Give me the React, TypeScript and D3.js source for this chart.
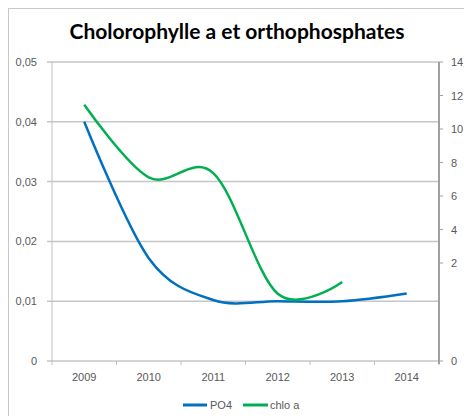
import React from "react";
import * as d3 from "d3";

const years = ["2009", "2010", "2011", "2012", "2013", "2014"];
const po4 = [0.04, 0.0172, 0.0102, 0.01, 0.01, 0.0113];
const chloa = [12.0, 8.6, 8.8, 3.15, 3.7];
const leftTicks = [0, 0.01, 0.02, 0.03, 0.04, 0.05];
const leftTickLabels = ["0", "0,01", "0,02", "0,03", "0,04", "0,05"];
const rightTicks = [0, 2, 4, 6, 8, 10, 12, 14];
const title = "Cholorophylle a et orthophosphates";
const seriesNames = ["PO4", "chlo a"];

const W = 464;
const H = 416;
const left = 52;
const right = 439;
const top = 62;
const bottom = 361;
const blue = "#0070C0";
const green = "#00B050";
const txt = "#595959";
const font = "'Liberation Sans', Arial, sans-serif";

export default function App() {
  const x = d3.scaleBand<string>().domain(years).range([left, right]);
  const cx = (yr: string) => (x(yr) as number) + x.bandwidth() / 2;
  const yL = d3.scaleLinear().domain([0, 0.05]).range([bottom, top]);
  const yR = d3.scaleLinear().domain([0, 14]).range([bottom, top]);
  // label placement on the right axis as rendered in the reference
  const yRLabel = d3.scaleLinear().domain([0, 2, 14]).range([bottom, 263, top]);

  const curve = d3.curveCardinal.tension(0);
  const lineL = d3
    .line<number>()
    .x((_, i) => cx(years[i]))
    .y((d) => yL(d))
    .curve(curve);
  const lineR = d3
    .line<number>()
    .x((_, i) => cx(years[i]))
    .y((d) => yR(d))
    .curve(curve);

  const boundaries = [...years.map((y) => x(y) as number), right];

  return (
    <svg
      width={W}
      height={H}
      style={{ position: "absolute", left: 0, top: 0, background: "#fff" }}
    >
      <rect x={0} y={0} width={W} height={H} fill="#fff" />
      {/* chart border */}
      <line x1={8} y1={8.5} x2={W} y2={8.5} stroke="#c8c8c8" strokeWidth={1} />
      <line x1={8.5} y1={8} x2={8.5} y2={H} stroke="#c8c8c8" strokeWidth={1} />

      <text
        x={237}
        y={39}
        textAnchor="middle"
        fontFamily="Lato, 'Open Sans', sans-serif"
        fontWeight="bold"
        fontSize={21}
        fill="#000"
      >
        {title}
      </text>

      {/* gridlines */}
      {leftTicks.map((t, i) => (
        <g key={"g" + i}>
          <line
            x1={left - 5}
            x2={right}
            y1={yL(t)}
            y2={yL(t)}
            stroke="#c6c6c6"
            strokeWidth={1.5}
          />
          <text
            x={37}
            y={yL(t) + 4}
            textAnchor="end"
            fontFamily={font}
            fontSize={11}
            fill={txt}
          >
            {leftTickLabels[i]}
          </text>
        </g>
      ))}
      {/* left axis */}
      <line x1={left} x2={left} y1={top} y2={bottom} stroke="#bfbfbf" strokeWidth={1} />
      {/* x ticks */}
      {boundaries.map((b, i) => (
        <line
          key={"xt" + i}
          x1={b}
          x2={b}
          y1={bottom}
          y2={bottom + 4}
          stroke="#bfbfbf"
          strokeWidth={1}
        />
      ))}
      {years.map((yr) => (
        <text
          key={"xl" + yr}
          x={cx(yr)}
          y={381}
          textAnchor="middle"
          fontFamily={font}
          fontSize={11}
          fill={txt}
        >
          {yr}
        </text>
      ))}
      {/* right axis */}
      <line x1={right} x2={right} y1={top} y2={bottom + 3} stroke="#a0a0a0" strokeWidth={2} />
      {rightTicks.map((t) => (
        <g key={"r" + t}>
          <line
            x1={right}
            x2={right + 4}
            y1={yRLabel(t)}
            y2={yRLabel(t)}
            stroke="#a0a0a0"
            strokeWidth={1}
          />
          <text
            x={451}
            y={yRLabel(t) + 4}
            textAnchor="start"
            fontFamily={font}
            fontSize={11}
            fill={txt}
          >
            {t}
          </text>
        </g>
      ))}

      {/* series */}
      <path d={lineL(po4) || ""} fill="none" stroke={blue} strokeWidth={2.5} />
      <path d={lineR(chloa) || ""} fill="none" stroke={green} strokeWidth={2.5} />

      {/* legend */}
      <line x1={183} x2={207} y1={405} y2={405} stroke={blue} strokeWidth={3} />
      <text x={210} y={409} fontFamily={font} fontSize={11} fill={txt}>
        {seriesNames[0]}
      </text>
      <line x1={243} x2={268} y1={405} y2={405} stroke={green} strokeWidth={3} />
      <text x={270} y={409} fontFamily={font} fontSize={11} fill={txt}>
        {seriesNames[1]}
      </text>
    </svg>
  );
}
